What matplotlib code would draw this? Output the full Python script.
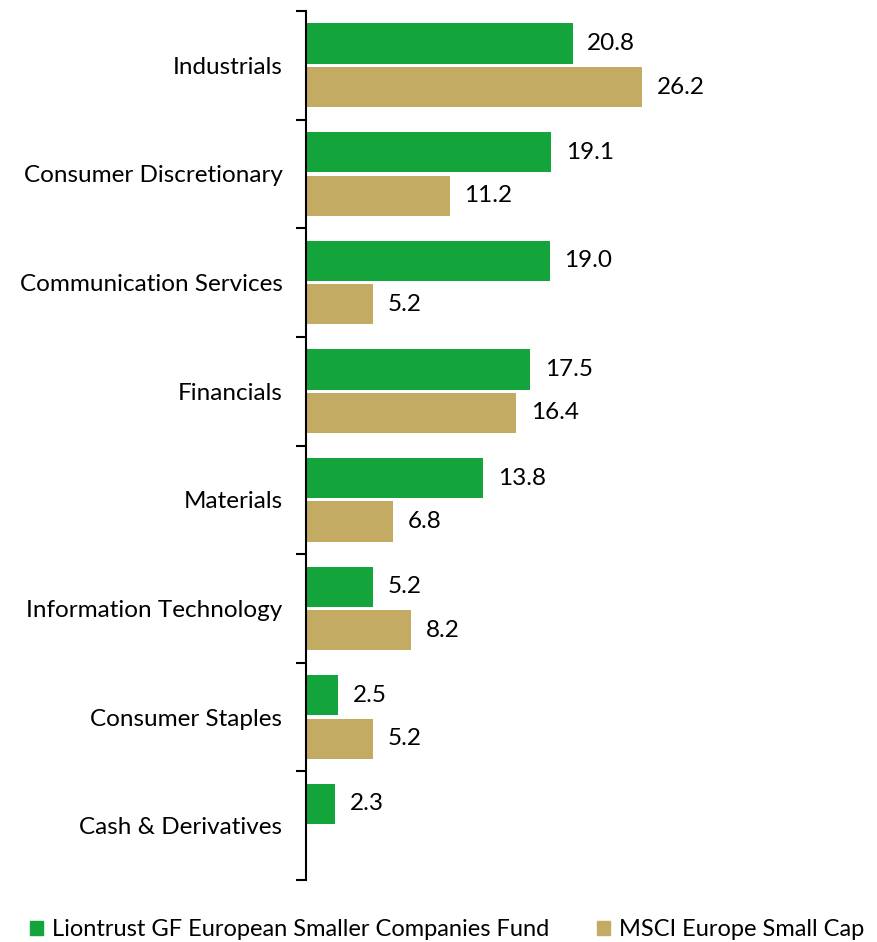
import matplotlib
matplotlib.use("Agg")
import matplotlib.pyplot as plt
import numpy as np
from matplotlib.patches import Patch

categories = ["Industrials", "Consumer Discretionary", "Communication Services",
              "Financials", "Materials", "Information Technology",
              "Consumer Staples", "Cash & Derivatives"]
fund = [20.8, 19.1, 19.0, 17.5, 13.8, 5.2, 2.5, 2.3]
index = [26.2, 11.2, 5.2, 16.4, 6.8, 8.2, 5.2, None]
fund_name = "Liontrust GF European Smaller Companies Fund"
index_name = "MSCI Europe Small Cap"

green = "#13A43B"
tan = "#C3AB64"

plt.rcParams['font.family'] = ['Lato', 'DejaVu Sans']

fig = plt.figure(figsize=(8.78, 9.42), dpi=100)
W, H = 878, 942
ax = fig.add_axes([306 / W, 1 - 880 / H, 564 / W, (880 - 11) / H])

n = len(categories)
y = np.arange(n)
h = 0.37
off = 0.2
fs = 17.5

for i in range(n):
    v = fund[i]
    ax.barh(i - off, v, height=h, color=green)
    ax.text(v + 1.15, i - off, f"{v:.1f}", va="center", ha="left", fontsize=fs)
    w = index[i]
    if w is not None:
        ax.barh(i + off, w, height=h, color=tan)
        ax.text(w + 1.15, i + off, f"{w:.1f}", va="center", ha="left", fontsize=fs)

ax.set_ylim(n - 0.5, -0.5)
ax.set_xlim(0, 44)
ax.set_yticks(y)
ax.set_yticklabels(categories, fontsize=fs)
ax.set_yticks(np.arange(-0.5, n, 1), minor=True)
ax.tick_params(axis="y", which="major", length=0, pad=17)
ax.tick_params(axis="y", which="minor", length=7, width=1.5, direction="out")
ax.set_xticks([])
for s in ["top", "right", "bottom"]:
    ax.spines[s].set_visible(False)
ax.spines["left"].set_linewidth(1.5)

handles = [Patch(color=green, label=fund_name), Patch(color=tan, label=index_name)]
fig.legend(handles=handles, loc="center", bbox_to_anchor=(447 / W, 1 - 930 / H),
           ncol=2, frameon=False, fontsize=17, handlelength=0.55, handleheight=0.55,
           handletextpad=0.4, columnspacing=2.0, borderaxespad=0, borderpad=0)

fig.savefig("out.png", dpi=100)
